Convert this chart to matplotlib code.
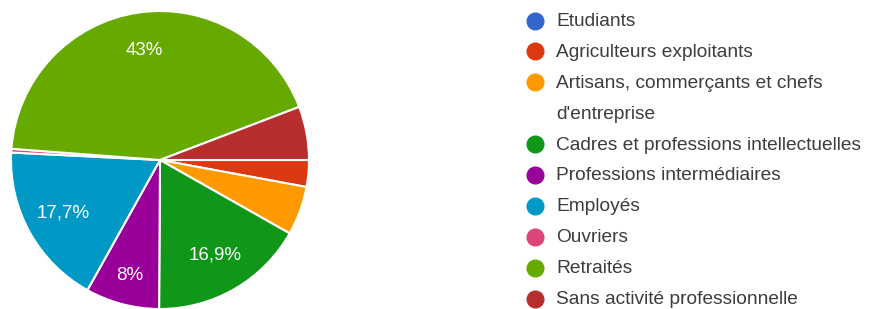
import matplotlib.pyplot as plt
from matplotlib.lines import Line2D

plt.rcParams['font.family'] = ['Liberation Sans', 'DejaVu Sans']

categories = ['Etudiants', 'Agriculteurs exploitants',
              "Artisans, commerçants et chefs\nd'entreprise",
              'Cadres et professions intellectuelles', 'Professions intermédiaires',
              'Employés', 'Ouvriers', 'Retraités', 'Sans activité professionnelle']
values = [0, 2.9, 5.3, 16.9, 8.0, 17.7, 0.4, 43.0, 5.8]
slice_labels = ['', '', '', '16,9%', '8%', '17,7%', '', '43%', '']
colors = ['#3366CC', '#DC3912', '#FF9900', '#109618', '#990099',
          '#0099C6', '#DD4477', '#66AA00', '#B82E2E']

W, H = 876, 309
fig = plt.figure(figsize=(W / 100, H / 100), dpi=100)
ax = fig.add_axes([11 / W, 0, 298 / W, 298 / H])

wedges, texts = ax.pie(values, labels=slice_labels, colors=colors, startangle=0,
                       counterclock=False, labeldistance=0.74,
                       wedgeprops=dict(edgecolor='white', linewidth=1.5),
                       textprops=dict(color='white', fontsize=13.5, ha='center', va='center'))
# le petit secteur "8%" a son étiquette un peu plus vers le bord
x8, y8 = texts[4].get_position()
texts[4].set_position((x8 * 1.08, y8 * 1.08))
ax.set_aspect('equal')
ax.set_xlim(-1.0, 1.0)
ax.set_ylim(-1.0, 1.0)

# légende manuelle, une ligne de texte tous les 31 px
y = 21.5
for cat, col in zip(categories, colors):
    fig.add_artist(Line2D([535 / W], [1 - (y - 1) / H], marker='o', markersize=12,
                          color=col, transform=fig.transFigure))
    for line in cat.split('\n'):
        fig.text(556 / W, 1 - y / H, line, fontsize=13.8, color='#3c3c3c',
                 va='center', ha='left')
        y += 30.9

fig.savefig('out.png', dpi=100)
